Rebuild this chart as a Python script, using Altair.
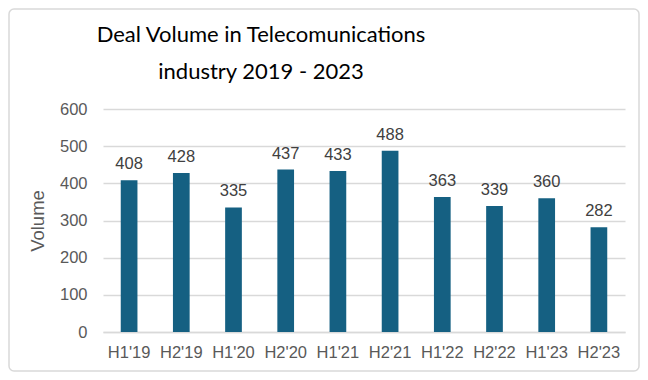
import altair as alt
import pandas as pd

periods = ["H1'19", "H2'19", "H1'20", "H2'20", "H1'21", "H2'21", "H1'22", "H2'22", "H1'23", "H2'23"]
volumes = [408, 428, 335, 437, 433, 488, 363, 339, 360, 282]
title_lines = ["Deal Volume in Telecomunications", "industry 2019 - 2023"]

df = pd.DataFrame({"period": periods, "volume": volumes})

W, H = 522, 223
PL, PT, PR, PB = 95, 101, 15, 40
FONT = "Liberation Sans"

x_enc = alt.X("period:N", sort=periods, title=None,
              scale=alt.Scale(paddingInner=0.68, paddingOuter=0.34),
              axis=alt.Axis(labelAngle=0, labelFontSize=16.5, labelColor="#595959",
                            labelFont=FONT, labelPadding=12,
                            domain=True, domainColor="#d9d9d9", domainWidth=1.5,
                            ticks=False, grid=False))
y_enc = alt.Y("volume:Q", title="Volume",
              scale=alt.Scale(domain=[0, 600], nice=False),
              axis=alt.Axis(values=[0, 100, 200, 300, 400, 500, 600], labelOverlap=False,
                            labelFontSize=16.5, labelColor="#595959", labelFont=FONT,
                            labelPadding=16, titleFontSize=18.5, titleColor="#595959",
                            titleFont=FONT, titleFontWeight="normal",
                            titlePadding=12, domain=False, ticks=False,
                            gridColor="#d9d9d9", gridWidth=1.5))

base = alt.Chart(df)
bars = base.mark_bar(color="#156082").encode(x=x_enc, y=y_enc)
labels = base.mark_text(baseline="bottom", dy=-8, fontSize=16.5, color="#404040",
                        font=FONT).encode(x=x_enc, y=y_enc, text="volume:Q")

one = alt.Data(values=[{"a": 1}])
title_layers = []
for line, ypage in zip(title_lines, [35, 72]):
    title_layers.append(
        alt.Chart(one).mark_text(fontSize=22, font="Lato", color="#000000",
                                 baseline="middle", align="center").encode(
            x=alt.value(261 - 8 - PL), y=alt.value(ypage - 8 - PT), text=alt.value(line)))

border = alt.Chart(one).mark_rect(
    fill=None, stroke="#d9d9d9", strokeWidth=1.5, cornerRadius=5).encode(
    x=alt.value(-PL + 1), x2=alt.value(W + PR - 1),
    y=alt.value(-PT + 1), y2=alt.value(H + PB - 1))

chart = alt.layer(bars, labels, *title_layers, border).properties(
    width=W, height=H,
    autosize=alt.AutoSizeParams(type="none"),
    padding={"left": PL, "top": PT, "right": PR, "bottom": PB},
).configure_view(stroke=None)

chart.save("out.html", embed_options={"renderer": "svg", "actions": False})
